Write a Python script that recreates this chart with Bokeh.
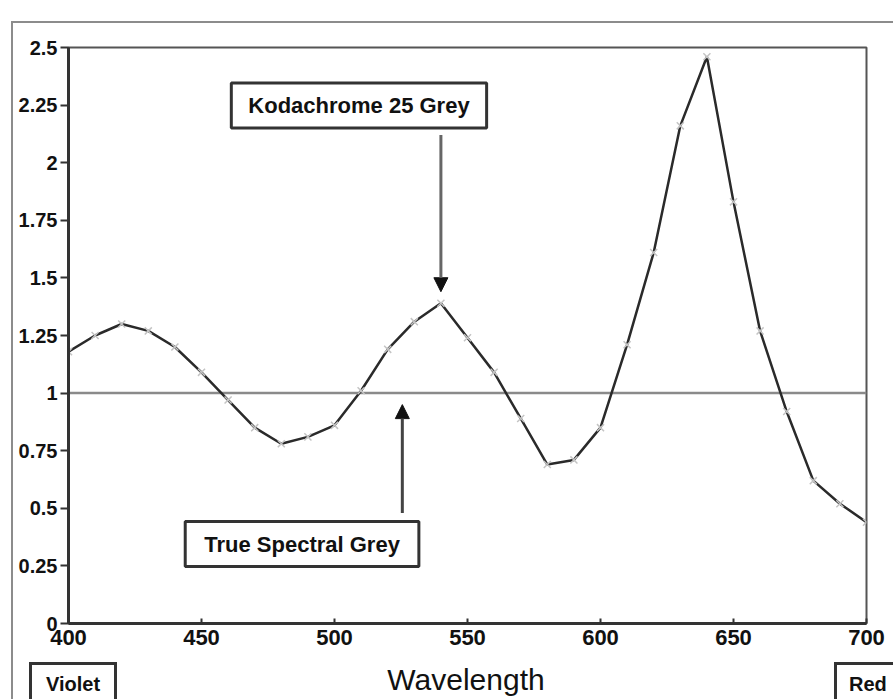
from bokeh.plotting import figure
from bokeh.layouts import column
from bokeh.models import Range1d, FixedTicker, Label, Arrow, NormalHead, Div
from bokeh.embed import file_html
from bokeh.resources import INLINE

# ---- data ----
wavelength = [400, 410, 420, 430, 440, 450, 460, 470, 480, 490, 500,
              510, 520, 530, 540, 550, 560, 570, 580, 590, 600,
              610, 620, 630, 640, 650, 660, 670, 680, 690, 700]
kodachrome = [1.18, 1.25, 1.30, 1.27, 1.20, 1.09, 0.97, 0.85, 0.78, 0.81, 0.86,
              1.01, 1.19, 1.31, 1.39, 1.24, 1.09, 0.89, 0.69, 0.71, 0.85,
              1.21, 1.61, 2.16, 2.46, 1.83, 1.27, 0.92, 0.62, 0.52, 0.44]
grey_x = [400, 700]
grey_y = [1.0, 1.0]

x_ticks = [400, 450, 500, 550, 600, 650, 700]
y_ticks = [0, 0.25, 0.5, 0.75, 1, 1.25, 1.5, 1.75, 2, 2.25, 2.5]
y_tick_labels = ["0", "0.25", "0.5", "0.75", "1", "1.25", "1.5", "1.75", "2", "2.25", "2.5"]

x_title = "Wavelength"
left_end_label = "Violet"
right_end_label = "Red"

# annotation anchors (data units)
kodak_arrow = dict(x=540, y_from=2.12, y_to=1.44)
grey_arrow = dict(x=525.5, y_from=0.48, y_to=0.95)
kodak_label_pos = (509.2, 2.248)
grey_label_pos = (487.8, 0.345)

FONT = "Liberation Sans"
W = 880
H_MAIN = 637
H_FOOT = 39

# ---- main chart ----
p = figure(width=W, height=H_MAIN, output_backend="svg", toolbar_location=None,
           x_range=Range1d(400, 700), y_range=Range1d(0, 2.5),
           min_border_left=55, min_border_right=27, min_border_top=24,
           min_border_bottom=H_MAIN - 600)
p.background_fill_color = "white"
p.border_fill_color = "white"
p.xgrid.visible = False
p.ygrid.visible = False
p.outline_line_color = "#555555"
p.outline_line_width = 2

p.xaxis.ticker = FixedTicker(ticks=x_ticks)
p.yaxis.ticker = FixedTicker(ticks=y_ticks)
p.yaxis.major_label_overrides = {t: l for t, l in zip(y_ticks, y_tick_labels)}
for ax in (p.xaxis, p.yaxis):
    ax.axis_line_color = "#333333"
    ax.axis_line_width = 3
    ax.major_tick_line_color = "#333333"
    ax.major_tick_line_width = 2
    ax.minor_tick_line_color = None
    ax.major_label_text_font = FONT
    ax.major_label_text_font_style = "bold"
    ax.major_label_text_color = "#111111"
p.xaxis.major_tick_in = 5
p.xaxis.major_tick_out = 0
p.xaxis.major_label_text_font_size = "22px"
p.xaxis.major_label_standoff = 6
p.yaxis.major_tick_in = 0
p.yaxis.major_tick_out = 8
p.yaxis.major_label_text_font_size = "20px"
p.yaxis.major_label_standoff = 3

p.line(grey_x, grey_y, line_color="#8a8a8a", line_width=2.5)
p.line(wavelength, kodachrome, line_color="#2a2a2a", line_width=2.5)
p.scatter(wavelength, kodachrome, marker="x", size=10, line_color="#c4c4c4", line_width=1.5)

p.add_layout(Arrow(x_start=kodak_arrow["x"], y_start=kodak_arrow["y_from"],
                   x_end=kodak_arrow["x"], y_end=kodak_arrow["y_to"],
                   line_color="#666666", line_width=3,
                   end=NormalHead(size=14, fill_color="#111111", line_color="#111111")))
p.add_layout(Arrow(x_start=grey_arrow["x"], y_start=grey_arrow["y_from"],
                   x_end=grey_arrow["x"], y_end=grey_arrow["y_to"],
                   line_color="#444444", line_width=3,
                   end=NormalHead(size=14, fill_color="#111111", line_color="#111111")))

def boxed(text, pos, size, pad):
    return Label(x=pos[0], y=pos[1], text=text, text_align="center", text_baseline="middle",
                 text_font=FONT, text_font_style="bold", text_font_size=size, text_color="#111111",
                 background_fill_color="white", border_line_color="#333333", border_line_width=3,
                 padding=pad)

p.add_layout(boxed("Kodachrome 25 Grey", kodak_label_pos, "22px", (17, 10)))
p.add_layout(boxed("True Spectral Grey", grey_label_pos, "22px", (19, 10)))

# ---- footer strip: x title with end-of-spectrum boxes ----
box_css = ("position:absolute;top:2px;height:52px;box-sizing:border-box;border:3px solid #333;"
           "background:white;font-weight:bold;font-size:20px;line-height:24px;padding-top:7px;"
           "color:#111;white-space:nowrap;")
foot_html = (
    f'<div style="position:relative;width:{W}px;height:{H_FOOT}px;overflow:hidden;'
    f'font-family:\'{FONT}\';">'
    f'<div style="{box_css}left:16px;width:88px;text-align:center;">{left_end_label}</div>'
    f'<div style="position:absolute;left:353px;width:200px;top:5px;text-align:center;'
    f'font-size:30px;line-height:30px;color:#111;white-space:nowrap;">{x_title}</div>'
    f'<div style="{box_css}left:821px;width:80px;padding-left:12px;">{right_end_label}</div>'
    f'</div>'
)
foot = Div(text=foot_html, width=W, height=H_FOOT, margin=0,
           styles={"overflow": "hidden", "background": "white"})

layout = column(p, foot, spacing=0, margin=(21, 0, 0, 11),
                styles={"border-left": "2px solid #8c8c8c", "border-top": "2px solid #8c8c8c"})

open("out.html", "w").write(file_html(layout, INLINE))
